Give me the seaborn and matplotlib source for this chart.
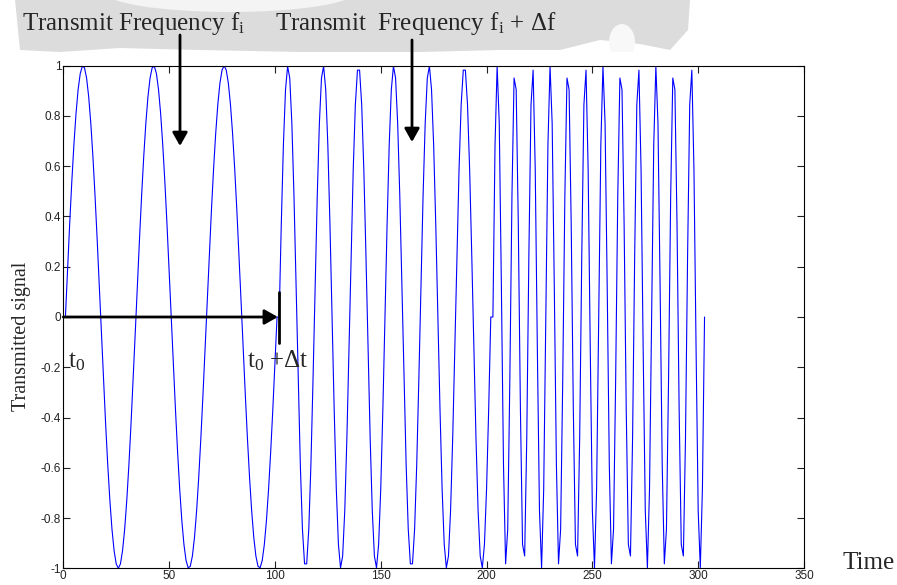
import numpy as np
import pandas as pd
import seaborn as sns
import matplotlib.pyplot as plt
from matplotlib.patches import Polygon, Ellipse

# stepped-frequency signal: three steps, each 101 samples, frequency doubling
seg_freq = [0.03, 0.06, 0.12]       # cycles per sample
seg_samples = [101, 101, 101]
x_ticks = [0, 50, 100, 150, 200, 250, 300, 350]
y_ticks = [-1, -0.8, -0.6, -0.4, -0.2, 0, 0.2, 0.4, 0.6, 0.8, 1]
y_tick_labels = ['-1', '-0.8', '-0.6', '-0.4', '-0.2', '0', '0.2', '0.4', '0.6', '0.8', '1']
title_left = r'Transmit Frequency f$_\mathrm{i}$'
title_right = r'Transmit  Frequency f$_\mathrm{i}$ + $\Delta$f'
step_dt = 101.4   # end of first frequency step

signal = np.concatenate([np.sin(2 * np.pi * f * np.arange(n)) for f, n in zip(seg_freq, seg_samples)])
df = pd.DataFrame({'time': np.arange(1, len(signal) + 1), 'signal': signal})

W, H = 897, 585
sns.set_style('ticks')
plt.rcParams['font.family'] = ['Liberation Serif', 'DejaVu Serif']
plt.rcParams['mathtext.fontset'] = 'custom'
plt.rcParams['mathtext.rm'] = 'Liberation Serif'
plt.rcParams['mathtext.it'] = 'Liberation Serif:italic'

fig = plt.figure(figsize=(W / 100, H / 100), dpi=100)
fig.patch.set_facecolor('white')


def px(x, y):
    return x / W, 1 - y / H


# faint watermark above the plot
band = [(15, 0), (690, 0), (688, 30), (670, 50), (640, 44), (600, 40), (560, 50),
        (500, 50), (420, 52), (300, 52), (200, 50), (120, 48), (60, 52), (20, 50)]
fig.patches.append(Polygon([px(*p) for p in band], closed=True, transform=fig.transFigure,
                           facecolor='#dcdcdc', edgecolor='none', zorder=-3))
fig.patches.append(Ellipse(px(230, -8), 250 / W, 40 / H, transform=fig.transFigure,
                           facecolor='#f4f4f4', edgecolor='none', zorder=-2))
fig.patches.append(Ellipse(px(622, 42), 26 / W, 36 / H, transform=fig.transFigure,
                           facecolor='#f8f8f8', edgecolor='none', zorder=-2))
fig.patches.append(Polygon([px(*p) for p in [(33, 52), (W, 52), (W, H), (33, H)]], closed=True,
                           transform=fig.transFigure, facecolor='white', edgecolor='none', zorder=-1))

ax = fig.add_axes([63.3 / W, 1 - 568.3 / H, (804 - 63.3) / W, (568.3 - 65.7) / H])
sns.lineplot(data=df, x='time', y='signal', estimator=None, sort=False,
             color='#0000ff', linewidth=0.8, ax=ax)

ax.set_xlim(0, 350)
ax.set_ylim(-1, 1)
ax.set_xticks(x_ticks)
ax.set_yticks(y_ticks)
ax.set_yticklabels(y_tick_labels)
ax.set_xlabel('')
ax.set_ylabel('')
for side in ['left', 'right', 'top', 'bottom']:
    ax.spines[side].set_visible(True)
    ax.spines[side].set_linewidth(0.8)
    ax.spines[side].set_color('black')
ax.tick_params(direction='in', length=5, width=0.8, top=True, right=True,
               labelsize=8.5, colors='#222222', pad=1.5)
for lab in ax.get_xticklabels() + ax.get_yticklabels():
    lab.set_family(['Liberation Sans', 'DejaVu Sans'])

# texts
fig.text(*px(22, 30), title_left, fontsize=18, va='baseline', ha='left')
fig.text(*px(275, 30), title_right, fontsize=18, va='baseline', ha='left')
fig.text(*px(22, 336), 'Transmitted signal', fontsize=14.5, rotation=90, ha='center', va='center')
fig.text(*px(842, 569), 'Time', fontsize=18, va='baseline', ha='left')
ax.text(2.2, -0.2, r't$_0$', fontsize=18, va='baseline', ha='left')
ax.text(86.8, -0.2, r't$_0$ +$\Delta$t', fontsize=18, va='baseline', ha='left')

# arrows
arrow_style = dict(arrowstyle='-|>,head_length=0.8,head_width=0.45', color='black', lw=2,
                   shrinkA=0, shrinkB=0)
ax.annotate('', xy=px(180, 146), xytext=px(180, 35), xycoords='figure fraction',
            textcoords='figure fraction', arrowprops=arrow_style, annotation_clip=False)
ax.annotate('', xy=px(412, 142), xytext=px(412, 40), xycoords='figure fraction',
            textcoords='figure fraction', arrowprops=arrow_style, annotation_clip=False)
ax.annotate('', xy=(step_dt, 0), xytext=(0, 0), arrowprops=arrow_style, annotation_clip=False)
ax.plot([step_dt + 0.5, step_dt + 0.5], [0.1, -0.103], color='black', lw=2)

fig.savefig('out.png', dpi=100)
